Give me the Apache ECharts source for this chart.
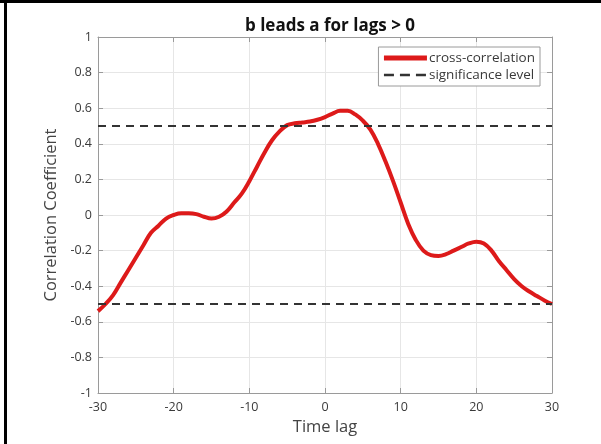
<!DOCTYPE html>
<html>
<head>
<meta charset="utf-8">
<script src="https://cdn.jsdelivr.net/npm/echarts@6/dist/echarts.min.js"></script>
<style>
    html, body { margin: 0; padding: 0; background: #fff; }
    #chart { width: 601px; height: 444px; }
</style>
</head>
<body>
<div id="chart"></div>
<script>
// lags -30..30, correlation
let lags = [];
for (let i = -30; i <= 30; i++) lags.push(i);

let corrValues = [
    -0.54, -0.50, -0.45, -0.38, -0.31, -0.24, -0.17, -0.10, -0.06, -0.02,
    0.00, 0.01, 0.01, 0.005, -0.01, -0.02, -0.01, 0.02, 0.07, 0.12,
    0.19, 0.27, 0.35, 0.42, 0.47, 0.505, 0.515, 0.52, 0.525, 0.535,
    0.55, 0.57, 0.585, 0.585, 0.565, 0.53, 0.48, 0.40, 0.30, 0.19,
    0.07, -0.05, -0.14, -0.20, -0.225, -0.23, -0.22, -0.20, -0.18, -0.16,
    -0.15, -0.16, -0.20, -0.26, -0.31, -0.36, -0.40, -0.43, -0.455, -0.48,
    -0.50
];

let sigLevel = 0.5;
let sigLags = [-30, 30];

let titleText = 'b leads a for lags > 0';
let xName = 'Time lag';
let yName = 'Correlation Coefficient';

let font = '"Open Sans", "DejaVu Sans", sans-serif';

let chart = echarts.init(document.getElementById('chart'));

let boxAxis = {
    axisLine: { show: true, onZero: false, lineStyle: { color: '#9a9a9a', width: 1 } },
    axisTick: { show: true, inside: true, length: 5, lineStyle: { color: '#9a9a9a' } },
    axisLabel: { show: false },
    splitLine: { show: false }
};

let sigStyle = { color: '#333', width: 2, type: [8, 6] };

chart.setOption({
    animation: false,
    textStyle: { fontFamily: font },
    title: {
        text: titleText,
        left: 325,
        textAlign: 'center',
        top: 13,
        textStyle: { fontSize: 17, fontWeight: 'bold', color: '#111', fontFamily: font }
    },
    legend: {
        right: 61,
        top: 47,
        orient: 'vertical',
        itemWidth: 43,
        itemHeight: 10,
        itemGap: 3,
        padding: [4, 5, 4, 3],
        borderColor: '#9a9a9a',
        borderWidth: 1,
        backgroundColor: '#fff',
        itemStyle: { opacity: 0 },
        data: [
            { name: 'cross-correlation', lineStyle: { width: 5 } },
            { name: 'significance level', lineStyle: { width: 2.5, type: [10, 6] } }
        ],
        textStyle: { fontSize: 13.5, color: '#3a3a3a', padding: [0, 0, 0, -3] }
    },
    grid: { left: 98, right: 49, top: 37, bottom: 51 },
    xAxis: [{
        type: 'value',
        min: -30, max: 30, interval: 10,
        name: xName,
        nameLocation: 'middle',
        nameGap: 20,
        nameTextStyle: { fontSize: 16.5, color: '#444' },
        axisLine: { show: true, onZero: false, lineStyle: { color: '#9a9a9a' } },
        axisTick: { show: true, inside: true, length: 5, lineStyle: { color: '#9a9a9a' } },
        axisLabel: { color: '#3a3a3a', fontSize: 12.5, margin: 8 },
        splitLine: { show: true, lineStyle: { color: '#e6e6e6' } }
    }, Object.assign({
        type: 'value', position: 'top', min: -30, max: 30, interval: 10
    }, boxAxis)],
    yAxis: [{
        type: 'value',
        min: -1, max: 1, interval: 0.2,
        name: yName,
        nameLocation: 'middle',
        nameGap: 37,
        nameRotate: 90,
        nameTextStyle: { fontSize: 16.5, color: '#444' },
        axisLine: { show: true, onZero: false, lineStyle: { color: '#9a9a9a' } },
        axisTick: { show: true, inside: true, length: 5, lineStyle: { color: '#9a9a9a' } },
        axisLabel: { color: '#3a3a3a', fontSize: 12.5, margin: 6 },
        splitLine: { show: true, lineStyle: { color: '#e6e6e6' } }
    }, Object.assign({
        type: 'value', position: 'right', min: -1, max: 1, interval: 0.2
    }, boxAxis)],
    series: [
        {
            name: 'significance level',
            type: 'line',
            symbol: 'none',
            lineStyle: sigStyle,
            itemStyle: { color: '#333' },
            data: sigLags.map(x => [x, sigLevel]),
            z: 3
        },
        {
            name: 'significance level',
            type: 'line',
            symbol: 'none',
            lineStyle: sigStyle,
            itemStyle: { color: '#333' },
            data: sigLags.map(x => [x, -sigLevel]),
            z: 3
        },
        {
            name: 'cross-correlation',
            type: 'line',
            symbol: 'none',
            smooth: 0.4,
            lineStyle: { color: '#dd1a1a', width: 4 },
            itemStyle: { color: '#dd1a1a' },
            data: lags.map((x, i) => [x, corrValues[i]]),
            z: 2
        }
    ],
    graphic: [
        { type: 'rect', shape: { x: 0, y: 0, width: 601, height: 3 }, style: { fill: '#000' } },
        { type: 'rect', shape: { x: 4, y: 0, width: 3, height: 444 }, style: { fill: '#000' } }
    ]
});
</script>
</body>
</html>
